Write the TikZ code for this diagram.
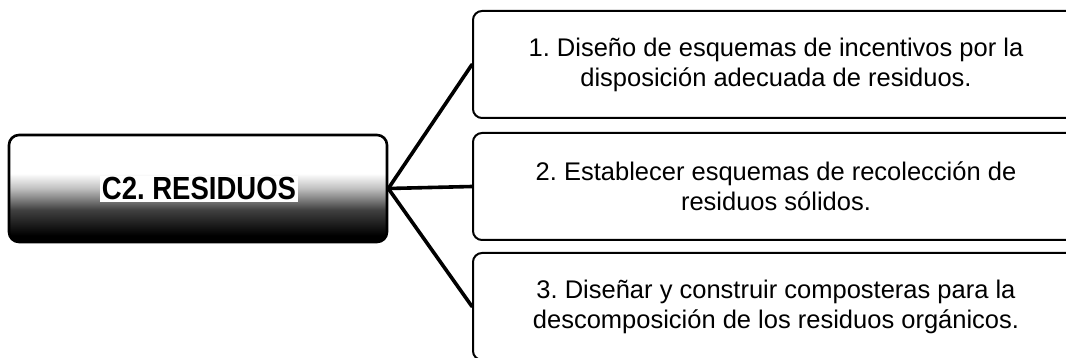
\documentclass[tikz,border=0pt]{standalone}
\usepackage{fontspec}
\setmainfont{Liberation Sans}
\newfontfamily\narrowsans[FakeStretch=0.86]{Liberation Sans}
\pgfdeclareverticalshading{resgrad}{100bp}{color(0bp)=(black); color(28bp)=(black); color(40bp)=(black!75); color(50bp)=(black!25); color(57bp)=(white); color(100bp)=(white)}
\frenchspacing
\begin{document}
\begin{tikzpicture}[x=1pt,y=-1pt,
  mainbox/.style={draw=black, line width=2.6pt, rounded corners=10pt, shading=resgrad,
    minimum width=378pt, minimum height=107pt, inner sep=0pt},
  mainlabel/.style={font=\narrowsans\fontsize{32}{36}\selectfont\bfseries, fill=white, inner sep=2pt, text=black},
  item/.style={draw=black, line width=2pt, rounded corners=9pt, fill=white,
    minimum width=606pt, minimum height=107pt, anchor=west, inner sep=0pt,
    font=\fontsize{25.5}{30}\selectfont, align=center},
  conn/.style={line width=3.6pt, line cap=round}]
\useasboundingbox (0,0) rectangle (1066,358);
\clip (0,0) rectangle (1066,358);
\node[mainbox] (main) at (198,188.5) {};
\node[mainlabel, anchor=base] (lab) at (199,200) {C2. RESIDUOS};
\node[item] (b1) at (472,64.5) {1. Diseño de esquemas de incentivos por la\\disposición adecuada de residuos.};
\node[item] (b2) at (472,186.5) {2. Establecer esquemas de recolección de\\residuos sólidos.};
\node[item] (b3) at (472,306.5) {3. Diseñar y construir composteras para la\\descomposición de los residuos orgánicos.};
\draw[conn] (main.east) -- (b1.west);
\draw[conn] (main.east) -- (b2.west);
\draw[conn] (main.east) -- (b3.west);
\end{tikzpicture}
\end{document}
